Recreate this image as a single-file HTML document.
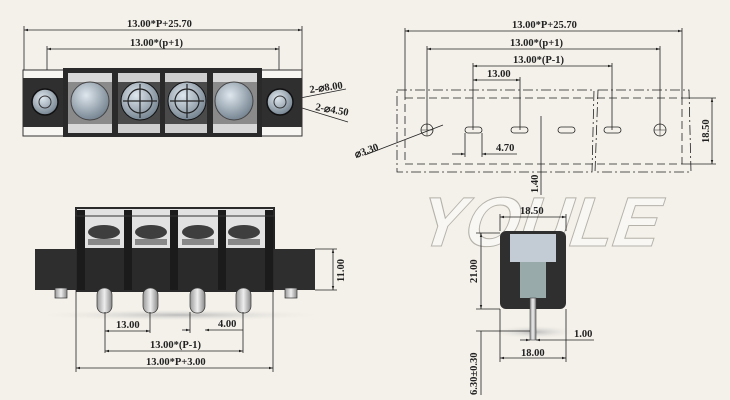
<!DOCTYPE html>
<html><head><meta charset="utf-8"><style>
html,body{margin:0;padding:0;background:#f4f1ea;}
svg{display:block}
text{font-family:"Liberation Serif","DejaVu Serif",serif;font-size:10.5px;fill:#222;font-weight:bold}
</style></head><body>
<svg width="730" height="400" viewBox="0 0 730 400" xmlns="http://www.w3.org/2000/svg">
<defs>
<marker id="a" viewBox="0 0 10 10" refX="10" refY="5" markerWidth="7" markerHeight="5" orient="auto-start-reverse"><path d="M0,2L10,5L0,8z" fill="#222"/></marker>
<radialGradient id="sc" cx="40%" cy="35%" r="70%"><stop offset="0" stop-color="#dfe7ee"/><stop offset="1" stop-color="#6f7f8c"/></radialGradient>
<linearGradient id="pin" x1="0" x2="1"><stop offset="0" stop-color="#999"/><stop offset=".5" stop-color="#eee"/><stop offset="1" stop-color="#888"/></linearGradient>
<radialGradient id="sh" cx="50%" cy="50%" r="50%"><stop offset="0" stop-color="#bbb"/><stop offset="1" stop-color="#f4f1ea" stop-opacity="0"/></radialGradient>
</defs>
<g stroke="#222" stroke-width="0.8" fill="none">
<line x1="24" y1="30" x2="302" y2="30" marker-start="url(#a)" marker-end="url(#a)"/>
<line x1="24" y1="26" x2="24" y2="70"/><line x1="302" y1="26" x2="302" y2="70"/>
<line x1="47" y1="49" x2="279" y2="49" marker-start="url(#a)" marker-end="url(#a)"/>
<line x1="47" y1="46" x2="47" y2="80"/><line x1="279" y1="46" x2="279" y2="80"/>
<line x1="295" y1="99" x2="346" y2="89"/><line x1="302" y1="108" x2="348" y2="122"/>
</g>
<text x="127" y="27">13.00*P+25.70</text>
<text x="130" y="46">13.00*(p+1)</text>
<text x="310" y="93" transform="rotate(-8 310 93)">2-⌀8.00</text>
<text x="315" y="110" transform="rotate(10 315 110)">2-⌀4.50</text>
<rect x="23" y="70" width="279" height="66" fill="#f7f6f2" stroke="#333" stroke-width="1"/>
<rect x="23" y="78" width="40" height="49" fill="#2f2f2f"/>
<rect x="262" y="78" width="40" height="49" fill="#2f2f2f"/>
<rect x="63" y="68" width="199" height="69" fill="#2a2a2a"/>
<rect x="68" y="73" width="44" height="60" fill="#d8d8d8"/>
<rect x="118" y="73" width="42" height="60" fill="#cfcfcf"/>
<rect x="165" y="73" width="42" height="60" fill="#cfcfcf"/>
<rect x="213" y="73" width="44" height="60" fill="#d8d8d8"/>
<rect x="68" y="82" width="44" height="42" fill="#8a8a8a"/>
<rect x="118" y="82" width="42" height="42" fill="#4a4a4a"/>
<rect x="165" y="82" width="42" height="42" fill="#4a4a4a"/>
<rect x="213" y="82" width="44" height="42" fill="#8a8a8a"/>
<circle cx="90" cy="101" r="19" fill="url(#sc)" stroke="#444"/>
<circle cx="140" cy="101" r="19" fill="url(#sc)" stroke="#111"/>
<circle cx="187" cy="101" r="19" fill="url(#sc)" stroke="#111"/>
<circle cx="234" cy="101" r="19" fill="url(#sc)" stroke="#444"/>
<g stroke="#222" fill="none" stroke-width="1.2">
<circle cx="140" cy="101" r="12"/><circle cx="187" cy="101" r="12"/>
<path d="M140 84V118M123 101H157M187 84V118M170 101H204"/>
</g>
<circle cx="45" cy="102" r="13" fill="url(#sc)" stroke="#111" stroke-width="1.5"/>
<circle cx="280" cy="102" r="13" fill="url(#sc)" stroke="#111" stroke-width="1.5"/>
<circle cx="45" cy="102" r="6" fill="none" stroke="#333"/><circle cx="280" cy="102" r="6" fill="none" stroke="#333"/>
<!-- bottom-left -->
<ellipse cx="180" cy="315" rx="150" ry="6" fill="url(#sh)"/>
<rect x="76" y="208" width="198" height="44" fill="#e2e2e2" stroke="#222" stroke-width="2"/>
<rect x="35" y="249" width="280" height="41" fill="#2e2e2e"/>
<rect x="76" y="248" width="198" height="44" fill="#2a2a2a"/>
<g fill="#3e3e3e"><ellipse cx="104" cy="232" rx="16" ry="7"/><ellipse cx="151" cy="232" rx="16" ry="7"/><ellipse cx="198" cy="232" rx="16" ry="7"/><ellipse cx="244" cy="232" rx="16" ry="7"/></g>
<g fill="#888"><rect x="88" y="239" width="32" height="6"/><rect x="135" y="239" width="32" height="6"/><rect x="182" y="239" width="32" height="6"/><rect x="228" y="239" width="32" height="6"/></g>
<g fill="#1b1b1b"><rect x="77" y="210" width="8" height="80"/><rect x="124" y="210" width="8" height="80"/><rect x="170" y="210" width="8" height="80"/><rect x="218" y="210" width="8" height="80"/><rect x="265" y="210" width="8" height="80"/></g>
<rect x="76" y="208" width="198" height="8" fill="none" stroke="#333"/>
<g fill="url(#pin)" stroke="#333" stroke-width=".7">
<rect x="97" y="288" width="15" height="25" rx="7"/><rect x="143" y="288" width="15" height="25" rx="7"/><rect x="190" y="288" width="15" height="25" rx="7"/><rect x="236" y="288" width="15" height="25" rx="7"/>
<rect x="55" y="288" width="12" height="10"/><rect x="285" y="288" width="12" height="10"/></g>
<g stroke="#222" stroke-width="0.8" fill="none">
<line x1="315" y1="249" x2="337" y2="249"/><line x1="315" y1="290" x2="337" y2="290"/>
<line x1="333" y1="249" x2="333" y2="290" marker-start="url(#a)" marker-end="url(#a)"/>
<line x1="105" y1="312" x2="105" y2="353"/><line x1="150" y1="312" x2="150" y2="333"/>
<line x1="190" y1="312" x2="190" y2="333"/><line x1="243" y1="312" x2="243" y2="353"/>
<line x1="76" y1="290" x2="76" y2="372"/><line x1="273" y1="290" x2="273" y2="372"/>
<line x1="105" y1="331" x2="150" y2="331" marker-start="url(#a)" marker-end="url(#a)"/>
<line x1="182" y1="330" x2="190" y2="330" marker-end="url(#a)"/><line x1="243" y1="330" x2="205" y2="330" marker-end="url(#a)"/>
<line x1="105" y1="351" x2="243" y2="351" marker-start="url(#a)" marker-end="url(#a)"/>
<line x1="76" y1="368" x2="273" y2="368" marker-start="url(#a)" marker-end="url(#a)"/>
</g>
<text x="116" y="328">13.00</text><text x="218" y="327">4.00</text>
<text x="150" y="348">13.00*(P-1)</text><text x="146" y="365">13.00*P+3.00</text>
<text x="344" y="282" transform="rotate(-90 344 282)">11.00</text>
<!-- top-right -->
<g stroke="#222" stroke-width="0.8" fill="none">
<line x1="405" y1="31" x2="682" y2="31" marker-start="url(#a)" marker-end="url(#a)"/>
<line x1="427" y1="49" x2="660" y2="49" marker-start="url(#a)" marker-end="url(#a)"/>
<line x1="473" y1="66" x2="612" y2="66" marker-start="url(#a)" marker-end="url(#a)"/>
<line x1="473" y1="80" x2="520" y2="80" marker-start="url(#a)" marker-end="url(#a)"/>
<line x1="405" y1="28" x2="405" y2="98"/><line x1="682" y1="28" x2="682" y2="98"/>
<line x1="427" y1="46" x2="427" y2="130"/><line x1="660" y1="46" x2="660" y2="130"/>
<line x1="473" y1="63" x2="473" y2="130"/><line x1="612" y1="63" x2="612" y2="130"/>
<line x1="520" y1="77" x2="520" y2="130"/>
<path d="M397 90H594L592 172H397Z M598 90H689L691 172H595Z" stroke-dasharray="10 3 2 3"/>
<rect x="405" y="98" width="277" height="66" stroke-dasharray="8 4"/>
<circle cx="427" cy="130" r="6"/><circle cx="660" cy="130" r="6"/>
<path d="M421 130H433M427 124V136M654 130H666M660 124V136" stroke-width=".5"/>
<rect x="465" y="127" width="17" height="6" rx="3"/><rect x="511" y="127" width="17" height="6" rx="3"/>
<rect x="558" y="127" width="17" height="6" rx="3"/><rect x="604" y="127" width="17" height="6" rx="3"/>
<line x1="541" y1="116" x2="541" y2="195"/>
<line x1="465" y1="133" x2="465" y2="157"/><line x1="482" y1="133" x2="482" y2="157"/>
<line x1="452" y1="154" x2="465" y2="154" marker-end="url(#a)"/><line x1="517" y1="154" x2="482" y2="154" marker-end="url(#a)"/>
<line x1="682" y1="98" x2="716" y2="98"/><line x1="682" y1="164" x2="716" y2="164"/>
<line x1="712" y1="98" x2="712" y2="164" marker-start="url(#a)" marker-end="url(#a)"/>
<line x1="365" y1="155" x2="443" y2="125"/>
</g>
<text x="487" y="77">13.00</text>
<text x="513" y="63">13.00*(P-1)</text>
<text x="510" y="46">13.00*(p+1)</text>
<text x="512" y="28">13.00*P+25.70</text>
<text x="496" y="151">4.70</text>
<text x="356" y="158" transform="rotate(-20 356 158)">⌀3.30</text>
<text x="709" y="143" transform="rotate(-90 709 143)">18.50</text>
<text x="538" y="193" transform="rotate(-90 538 193)">1.40</text>
<!-- watermark -->
<text x="415" y="246" transform="skewX(-18) translate(78 0)" style="font-family:'Liberation Sans',sans-serif;font-size:70px;font-weight:bold;fill:#f8f7f3;stroke:#b5b2aa;stroke-width:1;letter-spacing:0px">YOULE</text>
<!-- bottom-right -->
<ellipse cx="534" cy="332" rx="45" ry="7" fill="url(#sh)"/>
<rect x="500" y="231" width="66" height="78" rx="6" fill="#2f2f2f"/>
<rect x="510" y="234" width="46" height="28" fill="#c3ccd4"/>
<rect x="520" y="262" width="26" height="36" fill="#9aa"/>
<rect x="530" y="298" width="6" height="42" fill="url(#pin)" stroke="#444" stroke-width=".6"/>
<g stroke="#222" stroke-width="0.8" fill="none">
<line x1="500" y1="214" x2="500" y2="231"/><line x1="566" y1="214" x2="566" y2="231"/>
<line x1="500" y1="217" x2="566" y2="217" marker-start="url(#a)" marker-end="url(#a)"/>
<line x1="476" y1="233" x2="500" y2="233"/><line x1="476" y1="309" x2="500" y2="309"/><line x1="476" y1="331" x2="530" y2="331"/>
<line x1="481" y1="233" x2="481" y2="309" marker-start="url(#a)" marker-end="url(#a)"/>
<line x1="481" y1="331" x2="481" y2="395"/>
<line x1="500" y1="309" x2="500" y2="362"/><line x1="566" y1="309" x2="566" y2="362"/>
<line x1="500" y1="358" x2="566" y2="358" marker-start="url(#a)" marker-end="url(#a)"/>
<line x1="520" y1="340" x2="530" y2="340" marker-end="url(#a)"/><line x1="594" y1="340" x2="536" y2="340" marker-end="url(#a)"/>
</g>
<text x="520" y="214">18.50</text>
<text x="574" y="337">1.00</text>
<text x="521" y="356">18.00</text>
<text x="477" y="283" transform="rotate(-90 477 283)">21.00</text>
<text x="477" y="395" transform="rotate(-90 477 395)">6.30±0.30</text>
</svg>
</body></html>
